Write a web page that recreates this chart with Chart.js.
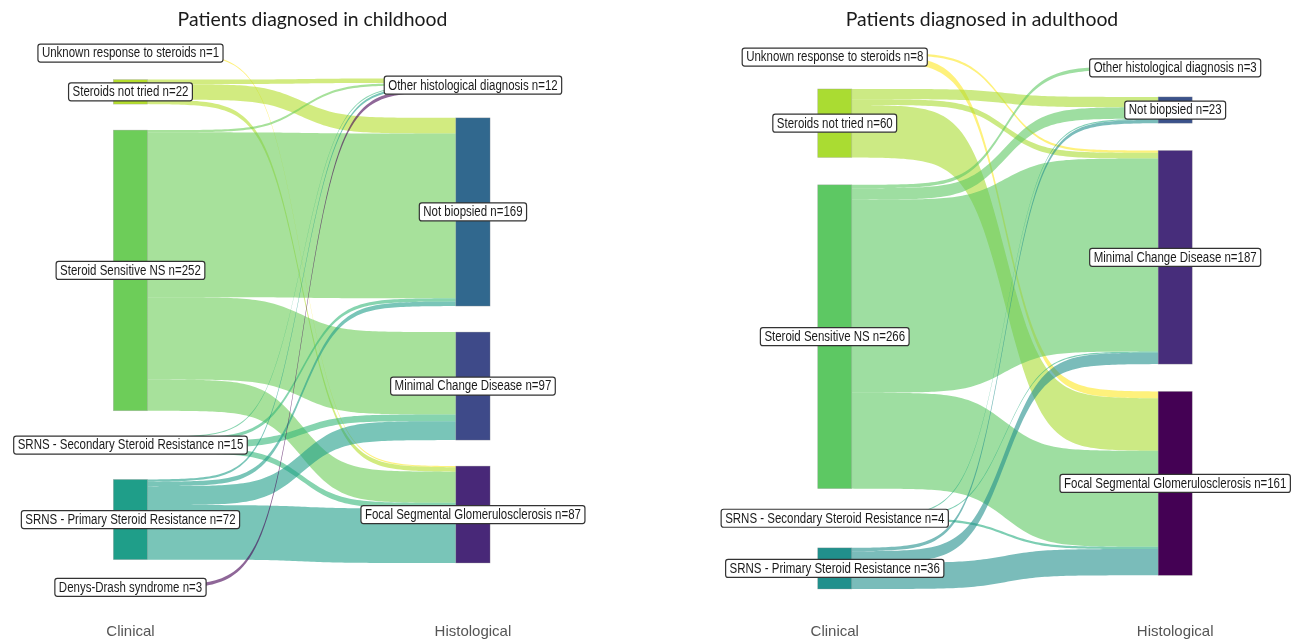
<!DOCTYPE html>
<html>
<head>
<meta charset="utf-8">
<title>Sankey - nephrotic syndrome</title>
<script src="https://cdn.jsdelivr.net/npm/chart.js@4.4.1/dist/chart.umd.min.js"></script>
<style>
  html, body { margin: 0; padding: 0; background: #fff; }
  #wrap { position: relative; width: 1300px; height: 641px; }
  .panel { position: absolute; top: 0; height: 641px; }
  #childPanel { left: 0; width: 625px; }
  #adultPanel { left: 664px; width: 636px; }
</style>
</head>
<body>
<div id="wrap">
  <div class="panel" id="childPanel"><canvas id="childChart"></canvas></div>
  <div class="panel" id="adultPanel"><canvas id="adultChart"></canvas></div>
</div>
<script>
// Axis categories
const stages = ['Clinical', 'Histological'];

// Childhood
const childClinical = ['Unknown response to steroids', 'Steroids not tried', 'Steroid Sensitive NS',
  'SRNS - Secondary Steroid Resistance', 'SRNS - Primary Steroid Resistance', 'Denys-Drash syndrome'];
const childHistological = ['Other histological diagnosis', 'Not biopsied', 'Minimal Change Disease',
  'Focal Segmental Glomerulosclerosis'];
// rows = clinical group, columns = histological group
const childFlows = [
  [0, 0, 0, 1],
  [4, 14, 0, 4],
  [2, 148, 74, 28],
  [1, 3, 6, 5],
  [2, 4, 17, 49],
  [3, 0, 0, 0]
];

// Adulthood
const adultClinical = ['Unknown response to steroids', 'Steroids not tried', 'Steroid Sensitive NS',
  'SRNS - Secondary Steroid Resistance', 'SRNS - Primary Steroid Resistance'];
const adultHistological = ['Other histological diagnosis', 'Not biopsied', 'Minimal Change Disease',
  'Focal Segmental Glomerulosclerosis'];
const adultFlows = [
  [0, 0, 2, 6],
  [0, 9, 5, 46],
  [3, 10, 169, 84],
  [0, 1, 1, 2],
  [0, 3, 10, 23]
];

// Styling
const viridis10 = ['#440154', '#482878', '#3E4A89', '#31688E', '#26828E', '#1F9E89', '#35B779', '#6DCD59', '#B4DE2C', '#FDE725'];
const viridis9 = ['#440154', '#472D7B', '#3B528B', '#2C728E', '#21908C', '#27AD81', '#5DC863', '#AADC32', '#FDE725'];
const gapFrac = 0.064;
const nodeWidth = 0.1;
const flowAlpha = 0.6;
const smooth = 8;
const bottomRoom = 0.0634;   // empty space between the columns and the stage labels
const labelFont = "14px 'Liberation Sans', Arial, sans-serif";
const narrow = 0.82;         // squeeze to look like Arial Narrow

const sum = arr => arr.reduce((a, b) => a + b, 0);

function hexToRgba(hex, a) {
  const n = parseInt(hex.slice(1), 16);
  return `rgba(${(n >> 16) & 255}, ${(n >> 8) & 255}, ${n & 255}, ${a})`;
}

// colours assigned alphabetically, like a factor in R
function nodeColors(names, palette) {
  const sorted = [...names].sort();
  const map = {};
  sorted.forEach((name, i) => { map[name] = palette[i]; });
  return map;
}

// Stack nodes in each column, centred, and stack the flows inside nodes
function buildLayout(clinical, histological, flows) {
  const leftTotals = flows.map(r => sum(r));
  const rightTotals = histological.map((_, j) => sum(flows.map(r => r[j])));
  const total = sum(leftTotals);
  const gap = total * gapFrac;
  const leftH = total + gap * (clinical.length - 1);
  const rightH = total + gap * (histological.length - 1);
  const height = Math.max(leftH, rightH);

  const stack = (names, totals, h) => {
    let yy = (height - h) / 2;
    return names.map((name, i) => {
      const n = { name, value: totals[i], y0: yy, y1: yy + totals[i] };
      yy = n.y1 + gap;
      return n;
    });
  };
  const left = stack(clinical, leftTotals, leftH);
  const right = stack(histological, rightTotals, rightH);

  const srcCursor = left.map(n => n.y0);
  const tgtCursor = right.map(n => n.y0);
  const links = [];
  flows.forEach((row, i) => {
    row.forEach((v, j) => {
      if (!v) return;
      links.push({ source: clinical[i], value: v, sy: srcCursor[i], ty: tgtCursor[j] });
      srcCursor[i] += v;
      tgtCursor[j] += v;
    });
  });
  return { left, right, links, height };
}

function sigmoidCurve(n) {
  const lo = 1 / (1 + Math.exp(smooth));
  const hi = 1 / (1 + Math.exp(-smooth));
  const pts = [];
  for (let k = 0; k <= n; k++) {
    const t = k / n;
    const s = 1 / (1 + Math.exp(-(-smooth + 2 * smooth * t)));
    pts.push([t, (s - lo) / (hi - lo)]);
  }
  return pts;
}

function sankeyPlugin(layout, colors) {
  return {
    id: 'sankey',
    beforeDatasetsDraw(chart) {
      const { ctx, scales: { x, y } } = chart;
      const curve = sigmoidCurve(100);
      const xs = 1 + nodeWidth / 2, xe = 2 - nodeWidth / 2;
      ctx.save();

      // flows
      layout.links.forEach(l => {
        ctx.beginPath();
        curve.forEach(([t, f], k) => {
          const px = x.getPixelForValue(xs + t * (xe - xs));
          const py = y.getPixelForValue(l.sy + f * (l.ty - l.sy));
          if (k) ctx.lineTo(px, py); else ctx.moveTo(px, py);
        });
        for (let k = curve.length - 1; k >= 0; k--) {
          const [t, f] = curve[k];
          ctx.lineTo(x.getPixelForValue(xs + t * (xe - xs)),
                     y.getPixelForValue(l.sy + f * (l.ty - l.sy) + l.value));
        }
        ctx.closePath();
        ctx.fillStyle = hexToRgba(colors[l.source], flowAlpha);
        ctx.fill();
      });

      // nodes
      [layout.left, layout.right].forEach((nodes, col) => {
        nodes.forEach(n => {
          const x0 = x.getPixelForValue(col + 1 - nodeWidth / 2);
          const x1 = x.getPixelForValue(col + 1 + nodeWidth / 2);
          const y0 = y.getPixelForValue(n.y0);
          const y1 = y.getPixelForValue(n.y1);
          ctx.fillStyle = colors[n.name];
          ctx.fillRect(x0, y0, x1 - x0, y1 - y0);
          ctx.strokeStyle = 'rgba(150,150,150,0.5)';
          ctx.lineWidth = 0.6;
          ctx.strokeRect(x0, y0, x1 - x0, y1 - y0);
        });
      });

      // labels
      ctx.font = labelFont;
      ctx.textAlign = 'center';
      ctx.textBaseline = 'middle';
      [layout.left, layout.right].forEach((nodes, col) => {
        nodes.forEach(n => {
          const text = `${n.name} n=${n.value}`;
          const cx = x.getPixelForValue(col + 1);
          const cy = y.getPixelForValue((n.y0 + n.y1) / 2);
          const w = ctx.measureText(text).width * narrow + 8;
          const h = 18;
          ctx.beginPath();
          ctx.roundRect(cx - w / 2, cy - h / 2, w, h, 2.5);
          ctx.fillStyle = '#ffffff';
          ctx.fill();
          ctx.strokeStyle = '#333333';
          ctx.lineWidth = 1.2;
          ctx.stroke();
          ctx.save();
          ctx.translate(cx, cy + 0.5);
          ctx.scale(narrow, 1);
          ctx.fillStyle = '#1a1a1a';
          ctx.fillText(text, 0, 0);
          ctx.restore();
        });
      });
      ctx.restore();
    }
  };
}

function makeChart(canvasId, title, clinical, histological, flows, palette, xMin, xMax) {
  const layout = buildLayout(clinical, histological, flows);
  const colors = nodeColors([...clinical, ...histological], palette);
  return new Chart(document.getElementById(canvasId), {
    type: 'scatter',
    data: { datasets: [] },
    options: {
      responsive: true,
      maintainAspectRatio: false,
      animation: false,
      layout: { padding: 0 },
      plugins: {
        legend: { display: false },
        tooltip: { enabled: false },
        title: {
          display: true,
          text: title,
          color: '#1a1a1a',
          font: { family: 'Lato', size: 19.4, weight: 'normal' },
          padding: { top: 8, bottom: 21.2 }
        }
      },
      scales: {
        x: {
          type: 'linear',
          min: xMin,
          max: xMax,
          grid: { display: false, drawTicks: false },
          border: { display: false },
          afterBuildTicks: axis => { axis.ticks = stages.map((_, i) => ({ value: i + 1 })); },
          ticks: {
            padding: 0,
            color: '#555555',
            autoSkip: false,
            maxRotation: 0,
            font: { family: "'Liberation Sans', Arial, sans-serif", size: 15 },
            callback: value => stages[Math.round(value) - 1]
          }
        },
        y: { type: 'linear', reverse: true, min: 0, max: layout.height * (1 + bottomRoom), display: false }
      }
    },
    plugins: [sankeyPlugin(layout, colors)]
  });
}

makeChart('childChart', 'Patients diagnosed in childhood', childClinical, childHistological, childFlows,
  viridis10, 0.619, 2.444);
makeChart('adultChart', 'Patients diagnosed in adulthood', adultClinical, adultHistological, adultFlows,
  viridis9, 0.4985, 2.3666);
</script>
</body>
</html>
